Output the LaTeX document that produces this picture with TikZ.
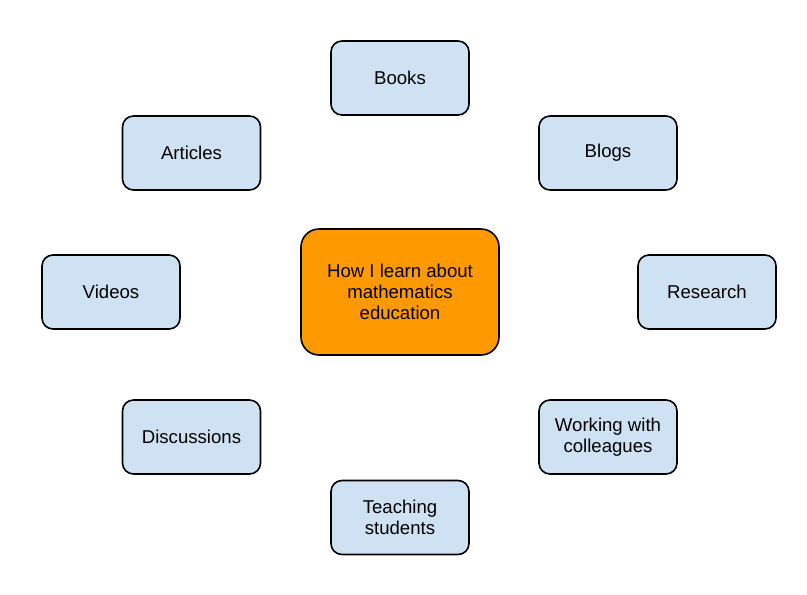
\documentclass[tikz,border=0pt]{standalone}
\usepackage{fontspec}
\setmainfont{Liberation Sans}
\definecolor{boxblue}{HTML}{CFE2F3}
\definecolor{boxorange}{HTML}{FF9900}
\begin{document}
\begin{tikzpicture}[x=1pt,y=-1pt,
  topic/.style={draw=black, line width=1.6pt, fill=boxblue, rounded corners=11pt,
    minimum width=138pt, minimum height=74pt, align=center, inner sep=2pt,
    font=\fontsize{18.6}{21}\selectfont},
  hub/.style={draw=black, line width=1.6pt, fill=boxorange, rounded corners=18pt,
    minimum width=198pt, minimum height=126pt, align=center,
    font=\fontsize{18.6}{21}\selectfont}]
\useasboundingbox (0,0) rectangle (807,595);
\node[hub] (c) at (400,292) {How I learn about\\mathematics\\education};
\node[topic] (books) at (400,78) {Books};
\node[topic] (articles) at (191.5,153) {Articles};
\node[topic] (blogs) at (608,153) {Blogs};
\node[topic] (videos) at (111,292) {Videos};
\node[topic] (research) at (707,292) {Research};
\node[topic] (disc) at (191.5,437) {Discussions};
\node[topic] (work) at (608,437) {Working with\\colleagues};
\node[topic] (teach) at (400,517.5) {Teaching\\students};
\end{tikzpicture}
\end{document}
